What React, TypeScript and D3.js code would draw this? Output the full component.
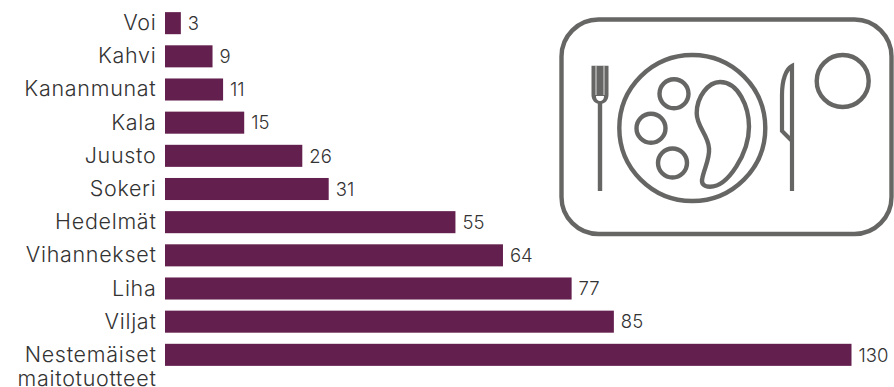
import React from "react";
import * as d3 from "d3";

const categories = ["Voi", "Kahvi", "Kananmunat", "Kala", "Juusto", "Sokeri", "Hedelmät", "Vihannekset", "Liha", "Viljat", "Nestemäiset|maitotuotteet"];
const amounts = [3, 9, 11, 15, 26, 31, 55, 64, 77, 85, 130];

const WIDTH = 894;
const HEIGHT = 387;
const BAR_COLOR = "#63204e";
const TEXT_COLOR = "#333333";
const ICON_COLOR = "#666665";
const FONT = "Inter, sans-serif";

// Tray icon: outlined place setting with fork, plate, knife and glass.
function TrayIcon() {
  const common = { fill: "none", stroke: ICON_COLOR, strokeWidth: 4.4 };
  return (
    <g {...common}>
      <rect x={561.5} y={19.5} width={330} height={214.5} rx={37} ry={37} />
      <circle cx={692.3} cy={128} r={73} />
      <circle cx={674} cy={93.7} r={14.5} />
      <circle cx={651} cy={128.3} r={14.5} />
      <circle cx={672.5} cy={163} r={14.5} />
      <circle cx={842.7} cy={81} r={26} />
      {/* food on the plate */}
      <path d="M720 82 C738.3 82 749 106.7 749 126.7 C749 153 728 186.7 710 186.7 C703.3 186.7 701 183.3 702.3 178.3 C704.3 168.3 710 158.3 709 148.3 C708.3 135 696.7 126.7 696.7 113.3 C696.7 96.7 708.3 82 720 82 Z" />
      {/* fork */}
      <path d="M600 191 V103" strokeWidth={4.4} />
      <path d="M591.5 65.7 H608.5 V95 C608.5 100 605 104 600 104 C595 104 591.5 100 591.5 95 Z" fill={ICON_COLOR} stroke="none" />
      <path d="M596 65.7 V95 M604 65.7 V95" stroke="#ffffff" strokeOpacity={0.6} strokeWidth={1.3} />
      <path d="M596 96 C596 99.5 598 101 600 101 C602 101 604 99.5 604 96 Z" fill="#ffffff" stroke="none" />
      {/* knife */}
      <path d="M792 191 V66 C786 69 782 80 782 95 V131 L792 141" strokeWidth={4.2} />
    </g>
  );
}

export default function App() {
  const x = d3.scaleLinear().domain([0, 130]).range([165, 851.5]);
  const y = d3.scaleBand().domain(categories).range([6.5, 371.5]).paddingInner(0.335).paddingOuter(0.17);
  return (
    <svg
      width={WIDTH}
      height={HEIGHT}
      viewBox={`0 0 ${WIDTH} ${HEIGHT}`}
      style={{ position: "absolute", left: 0, top: 0, fontFamily: FONT, fontWeight: 300 }}
    >
      <TrayIcon />
      {categories.map((c, i) => {
        const top = y(c)!;
        const mid = top + y.bandwidth() / 2;
        const lines = c.split("|");
        return (
          <g key={c}>
            <rect x={x(0)} y={top} width={x(amounts[i]) - x(0)} height={y.bandwidth()} fill={BAR_COLOR} />
            <text x={x(amounts[i]) + 7} y={mid + 6.7} fontSize={18.5} fill={TEXT_COLOR}>
              {amounts[i]}
            </text>
            {lines.map((line, k) => (
              <text key={line} x={156.5} y={mid + 7 + k * 24.6} textAnchor="end" fontSize={21.5} letterSpacing={0.7} fill={TEXT_COLOR}>
                {line}
              </text>
            ))}
          </g>
        );
      })}
    </svg>
  );
}
